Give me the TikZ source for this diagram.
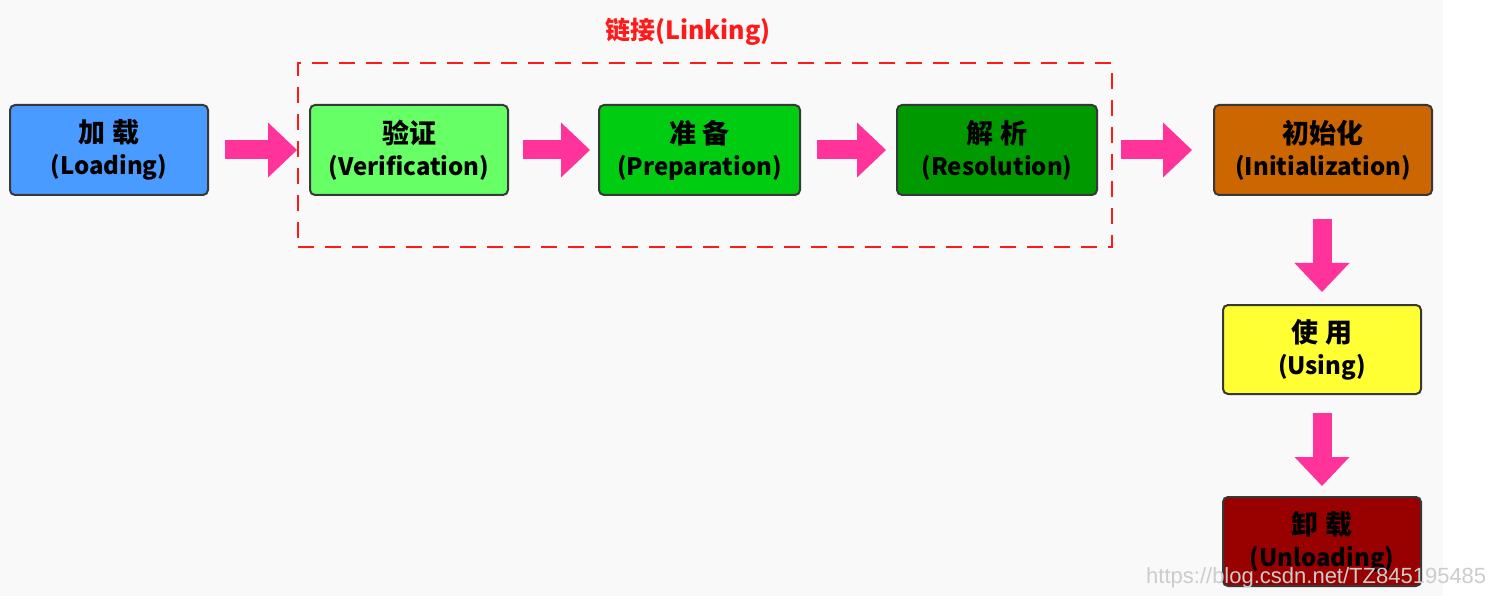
\documentclass[tikz,border=0pt]{standalone}
\usepackage{fontspec}
\setmainfont{Noto Sans CJK SC}
\newfontfamily\cjk{Noto Sans CJK SC}
\newfontfamily\wmfont{Liberation Sans}
\newcommand{\zh}[1]{{\fontsize{27}{32}\selectfont\cjk #1}}
\usetikzlibrary{arrows.meta}
\definecolor{bggray}{HTML}{F9F9F9}
\definecolor{cload}{HTML}{4A9BFF}
\definecolor{cverif}{HTML}{66FF66}
\definecolor{cprep}{HTML}{00CC11}
\definecolor{cresol}{HTML}{009A00}
\definecolor{cinit}{HTML}{CC6600}
\definecolor{cusing}{HTML}{FFFF33}
\definecolor{cunload}{HTML}{990000}
\definecolor{arrowpink}{HTML}{FF3399}
\definecolor{linkred}{HTML}{FF1A1A}
\begin{document}
\begin{tikzpicture}[x=1pt,y=-1pt,
  stage/.style={draw=black!78, line width=2pt, rounded corners=5pt,
    minimum width=198pt, minimum height=90pt, align=center, inner sep=0pt,
    font=\bfseries\fontsize{24}{32}\selectfont, text=black},
  bigarrow/.style={draw=arrowpink, line width=19pt,
    -{Triangle[length=29pt,width=55pt,line width=0pt]}},
  linkbox/.style={draw=linkred, line width=2.6pt, dash pattern=on 16pt off 11pt,
    minimum width=814pt, minimum height=184pt, inner sep=0pt}
]
\useasboundingbox (0,0) rectangle (1508,596);
\fill[bggray] (0,0) rectangle (1443,596);

\node[linkbox] (link) at (705,155) {};
\node[text=linkred, font=\bfseries\fontsize{25}{28}\selectfont, inner sep=0pt] (linklabel) at (688,32) {链接(Linking)};

\node[stage, fill=cload] (load) at (109,150) {\zh{加 载}\\(Loading)};
\node[stage, fill=cverif] (verif) at (409,150) {\zh{验证}\\(Verification)};
\node[stage, fill=cprep, minimum width=201pt] (prep) at (699.5,150) {\zh{准 备}\\(Preparation)};
\node[stage, fill=cresol, minimum width=200pt] (resol) at (997,150) {\zh{解 析}\\(Resolution)};
\node[stage, fill=cinit, minimum width=218pt] (init) at (1323,150) {\zh{初始化}\\(Initialization)};
\node[stage, fill=cusing, minimum height=89pt] (using) at (1322,349.5) {\zh{使 用}\\(Using)};
\node[stage, fill=cunload, minimum height=89pt] (unload) at (1322,541.5) {\zh{卸 载}\\(Unloading)};

\draw[bigarrow] ([xshift=16pt]load.east) -- ([xshift=-12pt]verif.west);
\draw[bigarrow] ([xshift=14pt]verif.east) -- ([xshift=-8pt]prep.west);
\draw[bigarrow] ([xshift=16pt]prep.east) -- ([xshift=-10pt]resol.west);
\draw[bigarrow] ([xshift=23pt]resol.east) -- ([xshift=-21pt]init.west);
\draw[bigarrow] ([yshift=-23pt]init.south -| using.center) -- ([yshift=12pt]using.north);
\draw[bigarrow] ([yshift=-18pt]using.south) -- ([yshift=10pt]unload.north);

\node[anchor=base west, inner sep=0pt, text=gray!40, font=\wmfont\fontsize{22}{26}\selectfont] (wm) at (1146,583) {https://blog.csdn.net/TZ845195485};
\end{tikzpicture}
\end{document}
